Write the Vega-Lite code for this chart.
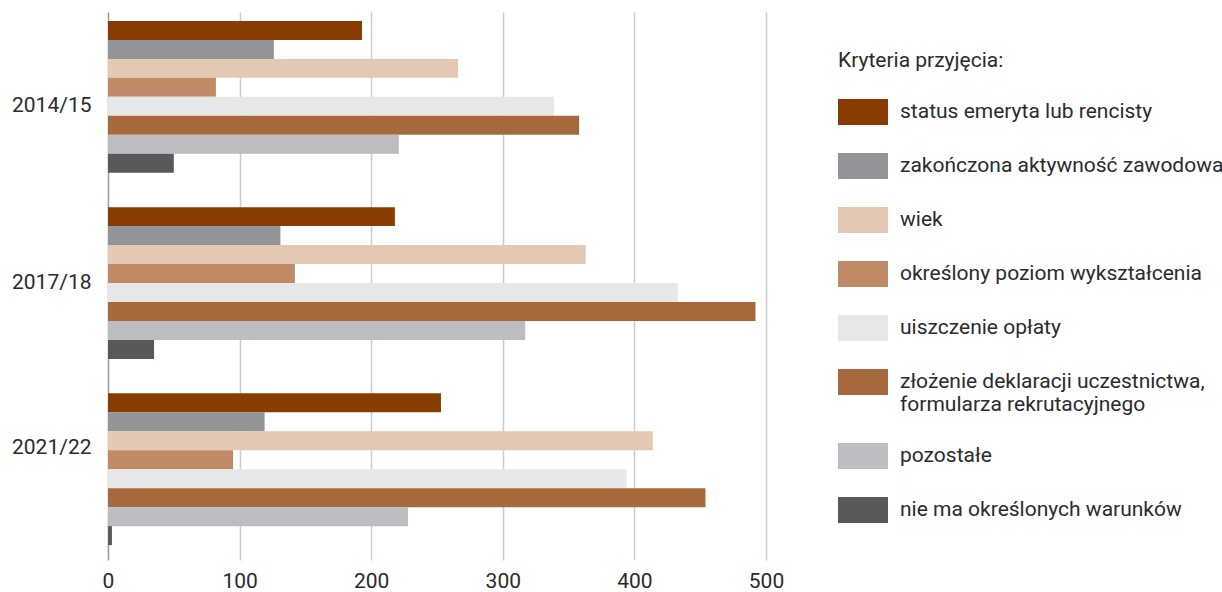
{
  "$schema": "https://vega.github.io/schema/vega-lite/v6.json",
  "width": 658,
  "height": 548,
  "autosize": "none",
  "padding": {"left": 108, "top": 12, "right": 456, "bottom": 32},
  "background": "white",
  "data": {
    "values": [
      {"year": "2014/15", "crit": "status emeryta lub rencisty", "value": 193},
      {"year": "2014/15", "crit": "zakończona aktywność zawodowa", "value": 126},
      {"year": "2014/15", "crit": "wiek", "value": 266},
      {"year": "2014/15", "crit": "określony poziom wykształcenia", "value": 82},
      {"year": "2014/15", "crit": "uiszczenie opłaty", "value": 339},
      {"year": "2014/15", "crit": "złożenie deklaracji uczestnictwa, formularza rekrutacyjnego", "value": 358},
      {"year": "2014/15", "crit": "pozostałe", "value": 221},
      {"year": "2014/15", "crit": "nie ma określonych warunków", "value": 50},
      {"year": "2017/18", "crit": "status emeryta lub rencisty", "value": 218},
      {"year": "2017/18", "crit": "zakończona aktywność zawodowa", "value": 131},
      {"year": "2017/18", "crit": "wiek", "value": 363},
      {"year": "2017/18", "crit": "określony poziom wykształcenia", "value": 142},
      {"year": "2017/18", "crit": "uiszczenie opłaty", "value": 433},
      {"year": "2017/18", "crit": "złożenie deklaracji uczestnictwa, formularza rekrutacyjnego", "value": 492},
      {"year": "2017/18", "crit": "pozostałe", "value": 317},
      {"year": "2017/18", "crit": "nie ma określonych warunków", "value": 35},
      {"year": "2021/22", "crit": "status emeryta lub rencisty", "value": 253},
      {"year": "2021/22", "crit": "zakończona aktywność zawodowa", "value": 119},
      {"year": "2021/22", "crit": "wiek", "value": 414},
      {"year": "2021/22", "crit": "określony poziom wykształcenia", "value": 95},
      {"year": "2021/22", "crit": "uiszczenie opłaty", "value": 394},
      {"year": "2021/22", "crit": "złożenie deklaracji uczestnictwa, formularza rekrutacyjnego", "value": 454},
      {"year": "2021/22", "crit": "pozostałe", "value": 228},
      {"year": "2021/22", "crit": "nie ma określonych warunków", "value": 3}
    ]
  },
  "mark": {"type": "bar"},
  "encoding": {
    "y": {
      "field": "year",
      "type": "nominal",
      "sort": ["2014/15", "2017/18", "2021/22"],
      "scale": {"paddingInner": 0.185, "paddingOuter": 0.064, "align": 0.375},
      "axis": {
        "title": null,
        "ticks": false,
        "domain": false,
        "labelFontSize": 21,
        "labelColor": "#2b2b2b",
        "labelPadding": 17,
        "labelOffset": {
          "condition": [
            {"test": "datum.value === '2014/15'", "value": 9},
            {"test": "datum.value === '2021/22'", "value": -21}
          ],
          "value": 0
        }
      }
    },
    "yOffset": {
      "field": "crit",
      "type": "nominal",
      "sort": [
        "status emeryta lub rencisty",
        "zakończona aktywność zawodowa",
        "wiek",
        "określony poziom wykształcenia",
        "uiszczenie opłaty",
        "złożenie deklaracji uczestnictwa, formularza rekrutacyjnego",
        "pozostałe",
        "nie ma określonych warunków"
      ],
      "scale": {"paddingInner": 0, "paddingOuter": 0}
    },
    "x": {
      "field": "value",
      "type": "quantitative",
      "scale": {"domain": [0, 500], "nice": false},
      "axis": {
        "title": null,
        "values": [0, 100, 200, 300, 400, 500],
        "ticks": false,
        "domain": false,
        "grid": true,
        "gridColor": {"condition": {"test": "datum.value === 0", "value": "#9a9a9a"}, "value": "#cccccc"},
        "gridWidth": 1.5,
        "labelFontSize": 21,
        "labelColor": "#2b2b2b",
        "labelPadding": 10,
        "labelFlush": false
      }
    },
    "color": {
      "field": "crit",
      "type": "nominal",
      "scale": {
        "domain": [
          "status emeryta lub rencisty",
          "zakończona aktywność zawodowa",
          "wiek",
          "określony poziom wykształcenia",
          "uiszczenie opłaty",
          "złożenie deklaracji uczestnictwa, formularza rekrutacyjnego",
          "pozostałe",
          "nie ma określonych warunków"
        ],
        "range": ["#873c00", "#939497", "#e3c8b3", "#bf8a66", "#e6e7e8", "#a6693c", "#bcbdc0", "#58595b"]
      },
      "legend": {
        "orient": "none",
        "legendX": 730,
        "legendY": 38,
        "title": "Kryteria przyjęcia:",
        "titleFontSize": 21,
        "titleFontWeight": "normal",
        "titleColor": "#2b2b2b",
        "titleBaseline": "top",
        "titlePadding": 16,
        "labelFontSize": 21,
        "labelColor": "#2b2b2b",
        "labelOffset": 12,
        "labelLimit": 400,
        "labelExpr": "split(replace(datum.label, ', ', ',|'), '|')",
        "symbolType": "M-1,-0.52L1,-0.52L1,0.52L-1,0.52Z",
        "symbolSize": 2500,
        "symbolStrokeWidth": 0,
        "symbolOpacity": 1,
        "rowPadding": 16
      }
    }
  },
  "config": {
    "view": {"stroke": null},
    "font": "Roboto"
  }
}
